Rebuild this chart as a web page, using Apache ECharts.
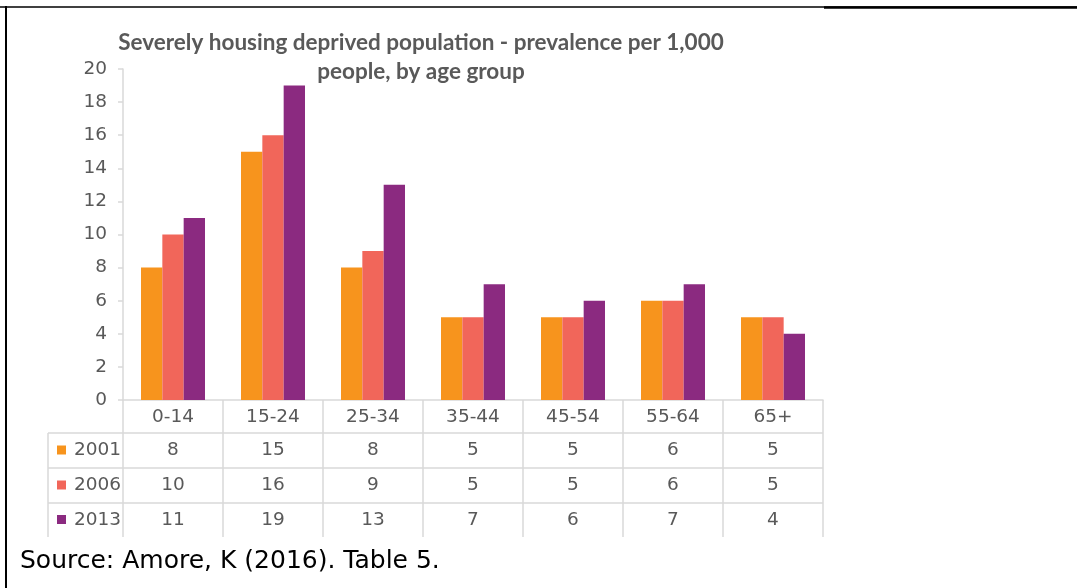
<!DOCTYPE html>
<html>
<head>
<meta charset="utf-8">
<script src="https://cdn.jsdelivr.net/npm/echarts@6/dist/echarts.min.js"></script>
<style>
  html, body { margin: 0; padding: 0; background: #fff; }
  #chart { width: 1077px; height: 588px; }
</style>
</head>
<body>
<div id="chart"></div>
<script>
const ageGroups = ['0-14', '15-24', '25-34', '35-44', '45-54', '55-64', '65+'];
const years = ['2001', '2006', '2013'];
const values2001 = [8, 15, 8, 5, 5, 6, 5];
const values2006 = [10, 16, 9, 5, 5, 6, 5];
const values2013 = [11, 19, 13, 7, 6, 7, 4];
const yTicks = [0, 2, 4, 6, 8, 10, 12, 14, 16, 18, 20];

const colors = ['#F7941D', '#F1665A', '#8B2A80'];
const seriesValues = [values2001, values2006, values2013];
const gridLine = '#d9d9d9';
const textGray = '#595959';
const tableFont = '"DejaVu Sans", Verdana, sans-serif';
const tableSize = 18.5;

// layout of the data table under the plot
const plotLeft = 123;
const plotRight = 823;
const axisY = 400;
const tableLeft = 48;
const rowLines = [433, 468, 503];
const tableBottom = 537;

const chart = echarts.init(document.getElementById('chart'));
chart.setOption({
  animation: false,
  grid: { left: plotLeft, right: 1077 - plotRight, top: 69, bottom: 588 - axisY },
  xAxis: {
    type: 'category',
    data: ageGroups,
    axisLine: { lineStyle: { color: gridLine, width: 1.5 } },
    axisTick: { show: true, length: tableBottom - axisY, lineStyle: { color: gridLine, width: 1.5 } },
    axisLabel: { color: textGray, fontSize: tableSize, fontFamily: tableFont, margin: 8 },
  },
  yAxis: {
    type: 'value',
    min: yTicks[0],
    max: yTicks[yTicks.length - 1],
    interval: 2,
    axisLine: { show: true, lineStyle: { color: gridLine, width: 1.5 } },
    axisTick: { show: true, length: 5, lineStyle: { color: gridLine, width: 1.5 } },
    axisLabel: { color: textGray, fontSize: tableSize, fontFamily: tableFont, margin: 16 },
    splitLine: { show: false },
  },
  series: years.map((y, i) => ({
    name: y,
    type: 'bar',
    data: seriesValues[i],
    barGap: '0%',
    barCategoryGap: '36%',
    itemStyle: { color: colors[i] },
  })),
});

const graphics = [];
// frame lines
graphics.push({ type: 'line', shape: { x1: 0, y1: 7, x2: 1077, y2: 7 }, style: { stroke: '#000', lineWidth: 1.5 } });
graphics.push({ type: 'line', shape: { x1: 824, y1: 7.5, x2: 1077, y2: 7.5 }, style: { stroke: '#000', lineWidth: 2.5 } });
graphics.push({ type: 'line', shape: { x1: 6, y1: 6, x2: 6, y2: 588 }, style: { stroke: '#000', lineWidth: 2 } });

// title
graphics.push({
  type: 'text',
  x: 421,
  y: 28,
  style: {
    text: 'Severely housing deprived population - prevalence per 1,000\npeople, by age group',
    align: 'center',
    font: 'bold 22.5px Lato, "Open Sans", sans-serif',
    fill: textGray,
    lineHeight: 29,
  },
});

// table grid
rowLines.forEach((ly) => {
  graphics.push({ type: 'line', shape: { x1: tableLeft, y1: ly, x2: plotRight, y2: ly }, style: { stroke: gridLine, lineWidth: 1.5 } });
});
graphics.push({ type: 'line', shape: { x1: tableLeft, y1: rowLines[0], x2: tableLeft, y2: tableBottom }, style: { stroke: gridLine, lineWidth: 1.5 } });

const rowTops = [rowLines[0], rowLines[1], rowLines[2]];
const rowBottoms = [rowLines[1], rowLines[2], tableBottom];
years.forEach((y, i) => {
  const cy = (rowTops[i] + rowBottoms[i]) / 2;
  graphics.push({ type: 'rect', shape: { x: 57, y: cy - 5, width: 9, height: 9 }, style: { fill: colors[i] } });
  graphics.push({
    type: 'text', x: 74, y: cy,
    style: { text: y, fill: textGray, font: tableSize + 'px ' + tableFont, verticalAlign: 'middle', align: 'left' },
  });
  seriesValues[i].forEach((v, j) => {
    const cx = chart.convertToPixel({ xAxisIndex: 0 }, ageGroups[j]);
    graphics.push({
      type: 'text', x: cx, y: cy,
      style: { text: String(v), fill: textGray, font: tableSize + 'px ' + tableFont, verticalAlign: 'middle', align: 'center' },
    });
  });
});

// source note
graphics.push({
  type: 'text', x: 20, y: 561,
  style: { text: 'Source: Amore, K (2016). Table 5.', fill: '#000', font: '25px ' + tableFont, verticalAlign: 'middle' },
});

chart.setOption({ graphic: graphics });
</script>
</body>
</html>
